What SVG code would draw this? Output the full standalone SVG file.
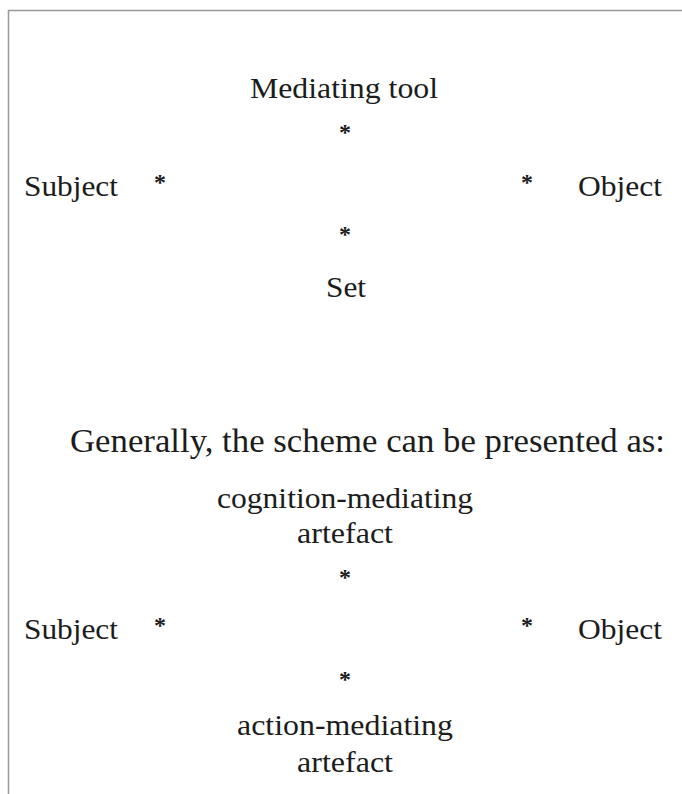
<svg xmlns="http://www.w3.org/2000/svg" width="682" height="794" viewBox="0 0 682 794">
<style>
text{font-family:"Liberation Serif","Times New Roman",serif;fill:#1c1c1c;font-size:30px}
.c{text-anchor:middle}
.s{font-size:24px;font-weight:bold}
.h{font-size:34px}
</style>
<rect width="682" height="794" fill="#fff"/>
<path d="M8.5 794V10.5H682" fill="none" stroke="#999" stroke-width="1.5"/>
<g id="top-scheme">
<g id="mediating-tool"><text class="c" x="344" y="98" textLength="188" lengthAdjust="spacingAndGlyphs">Mediating tool</text></g>
<g id="subject1"><text x="24" y="196" textLength="94" lengthAdjust="spacingAndGlyphs">Subject</text></g>
<g id="object1"><text x="578" y="196" textLength="84" lengthAdjust="spacingAndGlyphs">Object</text></g>
<g id="set"><text class="c" x="346" y="297" textLength="40" lengthAdjust="spacingAndGlyphs">Set</text></g>
</g>
<g id="connectors">
<text class="c s" x="345" y="140">*</text>
<text class="c s" x="160" y="190">*</text>
<text class="c s" x="527" y="190">*</text>
<text class="c s" x="345" y="242">*</text>
<text class="c s" x="345" y="585">*</text>
<text class="c s" x="160" y="633">*</text>
<text class="c s" x="527" y="633">*</text>
<text class="c s" x="345" y="687">*</text>
</g>
<g id="caption"><text class="h" x="70" y="452" textLength="595" lengthAdjust="spacingAndGlyphs">Generally, the scheme can be presented as:</text></g>
<g id="bottom-scheme">
<g id="cognition"><text class="c" x="345" y="508" textLength="256" lengthAdjust="spacingAndGlyphs">cognition-mediating</text><text class="c" x="345" y="543" textLength="96" lengthAdjust="spacingAndGlyphs">artefact</text></g>
<g id="subject2"><text x="24" y="639" textLength="94" lengthAdjust="spacingAndGlyphs">Subject</text></g>
<g id="object2"><text x="578" y="639" textLength="84" lengthAdjust="spacingAndGlyphs">Object</text></g>
<g id="action"><text class="c" x="345" y="735" textLength="216" lengthAdjust="spacingAndGlyphs">action-mediating</text><text class="c" x="345" y="772" textLength="96" lengthAdjust="spacingAndGlyphs">artefact</text></g>
</g>
</svg>
